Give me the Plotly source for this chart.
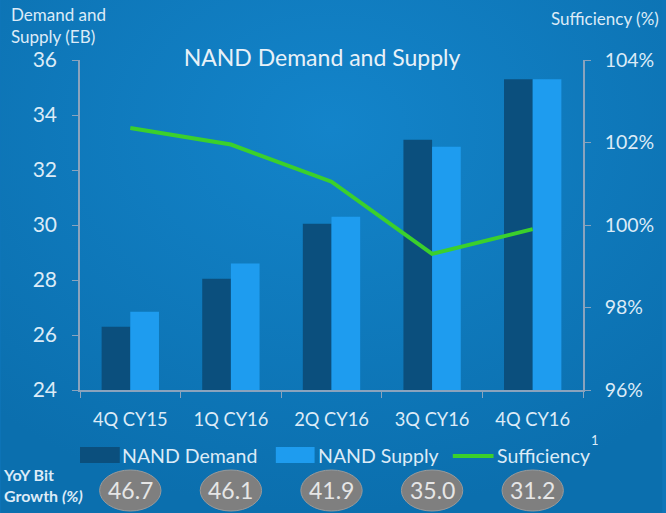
import base64
import plotly.graph_objects as go

categories = ["4Q CY15", "1Q CY16", "2Q CY16", "3Q CY16", "4Q CY16"]
nand_demand = [26.3, 28.05, 30.05, 33.1, 35.3]
nand_supply = [26.85, 28.6, 30.3, 32.85, 35.3]
sufficiency = [102.35, 101.95, 101.05, 99.3, 99.9]
yoy_growth = ["46.7", "46.1", "41.9", "35.0", "31.2"]

FONT = "Lato"
TXT = "#dcebf7"
AXC = "#8aa3bd"
DARK = "#0b4f7d"
LIGHT = "#1e9cef"
GREEN = "#3bd02c"

W, H = 666, 513
L, R, T, B = 80, 80, 60, 123
PW, PH = W - L - R, H - T - B


def px(xp):
    return (xp - L) / PW


def py(yp):
    return (H - B - yp) / PH


bg_svg = (
    '<svg xmlns="http://www.w3.org/2000/svg" width="666" height="513" preserveAspectRatio="none">'
    '<defs><radialGradient id="g" cx="50%" cy="25%" r="75%">'
    '<stop offset="0" stop-color="#1384ca"/><stop offset="1" stop-color="#0b6fae"/>'
    '</radialGradient></defs><rect width="666" height="513" fill="url(#g)"/></svg>'
)
bg_uri = "data:image/svg+xml;base64," + base64.b64encode(bg_svg.encode()).decode()

fig = go.Figure()
fig.add_trace(go.Bar(x=categories, y=nand_demand, name="NAND Demand",
                     marker=dict(color=DARK, line=dict(width=0)), showlegend=False))
fig.add_trace(go.Bar(x=categories, y=nand_supply, name="NAND Supply",
                     marker=dict(color=LIGHT, line=dict(width=0)), showlegend=False))
fig.add_trace(go.Scatter(x=categories, y=sufficiency, name="Sufficiency", yaxis="y2",
                         mode="lines", line=dict(color=GREEN, width=4), showlegend=False))

shapes = []
annotations = []

# manual legend
LEG = 19.5
shapes.append(dict(type="rect", xref="paper", yref="paper", x0=px(80), x1=px(120),
                   y0=py(463), y1=py(447), fillcolor=DARK, line=dict(width=0)))
annotations.append(dict(xref="paper", yref="paper", x=px(120), y=py(455), xanchor="left",
                        yanchor="middle", text="NAND Demand", showarrow=False,
                        font=dict(family=FONT, size=LEG, color=TXT)))
shapes.append(dict(type="rect", xref="paper", yref="paper", x0=px(277), x1=px(316),
                   y0=py(463), y1=py(447), fillcolor=LIGHT, line=dict(width=0)))
annotations.append(dict(xref="paper", yref="paper", x=px(317), y=py(455), xanchor="left",
                        yanchor="middle", text="NAND Supply", showarrow=False,
                        font=dict(family=FONT, size=LEG, color=TXT)))
shapes.append(dict(type="line", xref="paper", yref="paper", x0=px(455), x1=px(496),
                   y0=py(456), y1=py(456), line=dict(color=GREEN, width=4)))
annotations.append(dict(xref="paper", yref="paper", x=px(497), y=py(455), xanchor="left",
                        yanchor="middle", text="Sufficiency", showarrow=False,
                        font=dict(family=FONT, size=LEG, color=TXT)))
annotations.append(dict(xref="paper", yref="paper", x=px(598), y=py(440), xanchor="center",
                        yanchor="middle", text="1", showarrow=False,
                        font=dict(family=FONT, size=13, color=TXT)))

# YoY growth ellipses
for i, v in enumerate(yoy_growth):
    shapes.append(dict(type="circle", xref="x", yref="paper", x0=i - 0.305, x1=i + 0.305,
                       y0=py(511), y1=py(470), fillcolor="#7f7f7f",
                       line=dict(color="#9a9a9a", width=1)))
    annotations.append(dict(xref="x", yref="paper", x=i, y=py(490), text=v, showarrow=False,
                            xanchor="center", yanchor="middle",
                            font=dict(family=FONT, size=23, color="#e6e6e6")))

annotations.append(dict(xref="paper", yref="paper", x=px(1), y=py(485), xanchor="left",
                        yanchor="middle", align="left", showarrow=False,
                        text="<b>YoY Bit</b><br><b>Growth <i>(%)</i></b>",
                        font=dict(family=FONT, size=16, color=TXT)))

# axis titles
annotations.append(dict(xref="paper", yref="paper", x=px(9), y=py(25), xanchor="left",
                        yanchor="middle", align="left", showarrow=False,
                        text="Demand and<br>Supply (EB)",
                        font=dict(family=FONT, size=17, color=TXT)))
annotations.append(dict(xref="paper", yref="paper", x=px(664), y=py(18), xanchor="right",
                        yanchor="middle", align="right", showarrow=False,
                        text="Sufficiency (%)",
                        font=dict(family=FONT, size=17, color=TXT)))

fig.update_layout(
    width=W, height=H,
    margin=dict(l=L, r=R, t=T, b=B, pad=0),
    paper_bgcolor="#0e75b9",
    plot_bgcolor="rgba(0,0,0,0)",
    images=[dict(source=bg_uri, xref="paper", yref="paper", x=px(0), y=py(0),
                 sizex=W / PW, sizey=H / PH, xanchor="left", yanchor="top",
                 sizing="stretch", layer="below")],
    barmode="group", bargap=0.43, bargroupgap=0,
    title=dict(text="NAND Demand and Supply", x=322 / W, xref="container", xanchor="center",
               y=1 - 58 / H, yref="container", yanchor="middle",
               font=dict(family=FONT, size=23, color="#e8f1f8")),
    xaxis=dict(type="category", showgrid=False, showline=True, linecolor=AXC, linewidth=1.5,
               ticks="outside", tickson="boundaries", ticklen=6, tickcolor=AXC,
               tickfont=dict(family=FONT, size=18.3, color=TXT), ticklabelstandoff=12),
    yaxis=dict(range=[24, 36], dtick=2, showgrid=False, zeroline=False, showline=True,
               linecolor=AXC, linewidth=1.5, ticks="outside", ticklen=6, tickcolor=AXC,
               tickfont=dict(family=FONT, size=21, color=TXT), ticklabelstandoff=11),
    yaxis2=dict(range=[96, 104], dtick=2, overlaying="y", side="right", showgrid=False,
                zeroline=False, showline=True, linecolor=AXC, linewidth=1.5,
                ticks="outside", ticklen=6, tickcolor=AXC, ticksuffix="%",
                tickfont=dict(family=FONT, size=19.5, color=TXT), ticklabelstandoff=10),
    shapes=shapes,
    annotations=annotations,
    showlegend=False,
)

fig.write_html("out.html", config={"displayModeBar": False},
               post_script="document.body.style.margin='0';")
